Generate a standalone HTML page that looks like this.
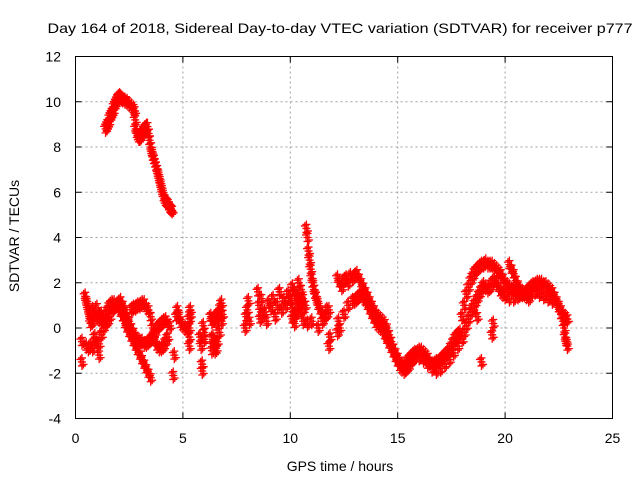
<!DOCTYPE html>
<html><head><meta charset="utf-8"><style>
body{margin:0;background:#fff}
svg text{font-family:"Liberation Sans",sans-serif;font-size:14px;fill:#000}
</style></head><body>
<svg id="chart" width="640" height="480" xmlns="http://www.w3.org/2000/svg">
<text x="340" y="33" text-anchor="middle" font-size="16" textLength="585" lengthAdjust="spacingAndGlyphs">Day 164 of 2018, Sidereal Day-to-day VTEC variation (SDTVAR) for receiver p777</text>
<text x="340" y="471" text-anchor="middle" font-size="15.5">GPS time / hours</text>
<text transform="translate(19,236) rotate(-90)" text-anchor="middle" font-size="15.5">SDTVAR / TECUs</text>
<g id="grid"></g>
<g id="ticks"></g>
<g id="marks"></g>
<rect x="75.5" y="56.5" width="537" height="362" fill="none" stroke="#000" stroke-width="1"/>
</svg>
<script>
const xTicks=[0,5,10,15,20,25];
const yTicks=[-4,-2,0,2,4,6,8,10,12];
const tA=[1.4,1.45,1.5,1.55,1.6,1.65,1.7,1.75,1.8,1.85,1.9,1.95,2.0,2.05,2.1,2.15,2.2,2.3,2.4,2.5,2.6,2.7,2.75,2.78,2.8,2.85,2.9,2.95,3.0,3.05,3.1,3.15,3.2,3.25,3.3,3.35,3.4,3.45,3.5,3.55,3.6,3.65,3.7,3.75,3.8,3.85,3.9,3.95,4.0,4.05,4.1,4.15,4.2,4.25,4.3,4.35,4.4,4.45,4.5];
const vA=[8.8,8.9,9.0,9.1,9.3,9.4,9.5,9.6,9.8,9.9,10.0,10.1,10.2,10.25,10.2,10.15,10.1,10.05,10.0,9.9,9.8,9.7,9.6,9.2,8.8,8.6,8.5,8.4,8.4,8.5,8.6,8.7,8.8,8.8,8.9,8.9,8.6,8.3,8.0,7.8,7.6,7.45,7.3,7.15,7.0,6.8,6.6,6.4,6.2,6.0,5.8,5.7,5.6,5.55,5.5,5.4,5.3,5.25,5.2];
const tB=[0.45,0.5,0.55,0.6,0.65,0.7,0.8,0.9,1.0,1.1,1.2,1.3,1.4,1.5,1.6,1.7,1.8,1.9,2.0,2.1,2.2,2.3,2.4,2.5,2.6,2.7,2.8,2.9,3.0,3.1,3.2,3.3,3.4,3.5];
const vB=[1.4,1.2,1.0,0.8,0.6,0.4,0.3,0.6,0.5,0.4,0.3,0.4,0.6,0.8,1.0,1.1,1.1,1.0,0.9,0.7,0.5,0.2,0.0,-0.2,-0.4,-0.6,-0.8,-1.0,-1.2,-1.4,-1.6,-1.8,-2.0,-2.2];
const tC=[0.5,0.6,0.7,0.8,0.9,1.0,1.1,1.2,1.3,1.4,1.5,1.6,1.7,1.8,1.9,2.0,2.1,2.2,2.3,2.4,2.5,2.6,2.7,2.8,2.9,3.0,3.1,3.2,3.3,3.4,3.5,3.6,3.7,3.8,3.9,4.0,4.1,4.2,4.3,4.4];
const vC=[-0.8,-0.9,-0.8,-0.9,-0.6,-0.7,-0.7,-0.3,0.0,0.2,0.3,0.5,0.8,0.9,1.0,1.1,1.2,1.0,0.8,0.5,0.3,0.0,-0.2,-0.4,-0.5,-0.6,-0.6,-0.7,-0.7,-0.6,-0.5,-0.4,-0.2,0.0,0.1,0.2,0.3,0.35,0.2,0.1];
const tD=[2.6,2.7,2.8,2.9,3.0,3.1,3.2,3.3,3.4,3.5,3.6,3.7,3.8,3.9,4.0,4.1,4.2,4.3,0.3,0.3,0.8,1.0,1.2,0.7,1.1,0.9];
const vD=[0.8,0.9,0.9,1.0,1.0,1.1,1.1,0.9,0.8,0.5,0.0,-0.6,-0.8,-0.9,-0.9,-0.8,-0.6,-0.4,-1.5,-0.6,0.8,0.9,0.6,0.2,-1.2,-0.4];
const tE=[4.55,4.6,4.7,4.75,4.8,4.9,5.0,5.1,5.2,5.3,5.3,5.3,5.3,5.35,5.35,5.8,5.85,5.9,5.9,5.95,6.0,6.0,6.3,6.35,6.4,6.45,6.5,6.55,6.6,6.65,6.7,6.75,6.8,6.85,6.4,6.5,6.6,6.7,6.8,6.35,6.45,6.55];
const vE=[-2.1,-1.2,0.5,0.8,0.6,0.2,0.1,0.0,-0.1,-0.8,-0.4,0.0,0.4,0.8,0.6,-0.4,-0.8,-1.9,-1.6,0.1,-0.2,-0.5,0.5,0.3,-0.5,-0.8,-1.0,-0.9,-0.6,0.5,0.7,0.9,1.1,0.6,-0.4,-0.7,0.6,-0.2,0.3,-1.0,0.4,0.2];
const tF=[7.9,7.95,8.0,8.05,8.1,8.5,8.55,8.6,8.65,8.7,8.8,8.9,9.0,9.1,9.2,9.3,9.4,9.5,9.6,9.7,9.8,9.9,10.0,10.1,10.2,10.3,10.4,10.5,10.6];
const vF=[0.0,0.5,0.8,1.2,0.3,1.6,1.0,0.4,1.3,0.6,0.7,0.3,1.1,0.9,1.3,0.5,1.0,1.6,0.8,1.2,1.0,1.5,1.3,1.8,1.6,1.4,2.0,1.2,0.8];
const tG=[10.0,10.1,10.2,10.3,10.4,10.5,10.6,10.7,10.75,10.8,10.85,10.9,10.95,11.0,11.05,11.1,11.15,11.2,11.25,11.3,11.4,11.5,11.6,11.7,11.8,11.85,11.8,10.1,10.3,10.5,10.8,11.0,11.3,11.5,11.7,10.2,10.4,10.6];
const vG=[1.2,0.9,0.6,0.9,1.4,1.7,1.3,1.0,4.4,4.0,3.4,3.0,2.6,2.2,2.0,1.7,1.5,1.4,1.2,1.0,0.8,0.6,0.5,0.6,0.8,-0.4,-0.8,0.4,0.7,0.8,0.2,0.3,0.0,0.3,0.8,0.2,1.0,0.3];
const tH=[12.2,12.3,12.4,12.5,12.6,12.7,12.8,12.9,13.0,13.1,13.2,13.3,13.4,13.5,13.6,13.7,13.8,13.9,14.0,14.1,14.2,14.3,14.4,14.5,14.6,14.7,14.8,14.9,15.0,15.1,15.2,15.3,15.4,15.5,15.6,15.7,15.8,15.9,16.0,16.1,16.2,16.3,16.4,16.5,16.6,16.7,16.8,16.9,17.0,17.1,17.2,17.3,17.4,17.5,17.6,17.7,17.8,17.9,18.0,18.1,18.2,18.3,18.4,18.5,18.6,18.7,18.8,18.9,19.0,19.1,19.2,19.3,19.4,19.5,19.6,19.7,19.8,19.9,20.0,20.1,20.2,20.3,20.4,20.5,20.6,20.7,20.8,20.9,21.0,21.1,21.2,21.3,21.4,21.5,21.6,21.7,21.8,21.9,22.0,22.1,22.2,22.3,22.4,22.5,22.6,22.7,22.75,22.8,22.85,22.9];
const vH=[2.2,2.0,1.8,2.1,2.2,2.0,2.3,2.2,2.3,2.4,2.2,2.0,1.8,1.6,1.4,1.2,1.0,0.8,0.6,0.5,0.4,0.3,0.2,0.0,-0.3,-0.6,-0.9,-1.1,-1.3,-1.5,-1.6,-1.7,-1.6,-1.4,-1.3,-1.2,-1.1,-1.1,-1.0,-1.0,-1.1,-1.2,-1.3,-1.5,-1.6,-1.6,-1.5,-1.5,-1.4,-1.3,-1.2,-1.1,-1.0,-0.8,-0.6,-0.4,-0.3,-0.2,0.5,1.0,1.5,1.8,2.1,2.3,2.5,2.6,2.7,2.8,2.8,2.9,2.8,2.8,2.8,2.7,2.6,2.5,2.4,2.2,2.0,1.9,1.8,1.7,1.7,1.6,1.6,1.5,1.5,1.5,1.6,1.7,1.8,1.9,1.9,2.0,2.0,2.0,1.9,1.9,1.8,1.7,1.6,1.4,1.2,0.9,0.6,0.3,0.0,-0.4,-0.6,-0.8,-1.0,-1.1];
const tI=[12.3,12.5,12.7,12.9,13.0,13.1,13.2,13.3,13.4,13.5,13.6,13.7,13.8,13.9,14.0,14.1,14.2,14.3,14.4,14.5,14.6,14.7,14.8,14.9,15.0,15.1,15.2,15.3,15.4,15.5,15.6,15.7,15.8,16.0,16.2,16.4,16.6,16.8,17.0,17.2,17.4,17.6,17.8,18.0,18.1,18.2,18.3,18.4,18.5,18.6,18.7,18.8,18.9,19.0,19.1,19.2,19.3,19.4,19.5,19.6,19.7,19.8,19.9,20.0,20.2,20.4,20.6,20.8,21.0,21.2,21.4,21.6,21.8,22.0,22.2,22.4,22.5,22.6,22.7,22.8,22.9,20.2,20.3,20.4,20.5,20.6,20.7,20.8,20.9,21.0,21.1,12.2,12.25,18.7,19.4,19.45,18.9,14.3,14.5];
const vI=[0.0,0.6,1.0,1.2,1.2,1.3,1.4,1.5,1.3,1.2,1.0,0.8,0.6,0.4,0.2,0.1,0.0,-0.1,-0.3,-0.5,-0.7,-0.9,-1.1,-1.3,-1.5,-1.7,-1.8,-1.9,-1.8,-1.7,-1.5,-1.4,-1.3,-1.3,-1.4,-1.6,-1.8,-1.9,-1.8,-1.6,-1.4,-1.1,-0.8,-0.5,-0.2,0.1,0.4,0.7,0.9,1.1,1.3,1.5,1.7,1.9,1.8,1.7,1.8,2.0,2.1,2.0,1.8,1.6,1.5,1.4,1.3,1.3,1.4,1.5,1.5,1.5,1.6,1.5,1.4,1.3,1.2,1.1,1.0,0.8,0.6,0.5,0.4,2.8,2.6,2.4,2.1,1.9,1.7,1.6,1.5,1.4,1.3,-0.2,0.3,0.5,-0.3,0.2,-1.5,0.1,-0.4];
const series=[[tA,vA],[tB,vB],[tC,vC],[tD,vD],[tE,vE],[tF,vF],[tG,vG],[tH,vH],[tI,vI]];
const X0=75.5,X1=612.5,Y0=418.5,Y1=56.5;
function xs(t){return X0+(t-0)/(25-0)*(X1-X0);}
function ys(v){return Y0-(v+4)/(12+4)*(Y0-Y1);}
const NS="http://www.w3.org/2000/svg";
function mk(tag,attrs,parent){const e=document.createElementNS(NS,tag);for(const k in attrs)e.setAttribute(k,attrs[k]);parent.appendChild(e);return e;}
const grid=document.getElementById('grid'),ticks=document.getElementById('ticks'),marks=document.getElementById('marks');
xTicks.forEach(t=>{const x=xs(t);
 if(t>0&&t<25){const g=mk('line',{x1:x,y1:Y1,x2:x,y2:Y0,stroke:'#a0a0a0','stroke-dasharray':'2,3'},grid);
 
 }
 mk('line',{x1:x,y1:Y0,x2:x,y2:Y0-6,stroke:'#000'},ticks);
 mk('line',{x1:x,y1:Y1,x2:x,y2:Y1+6,stroke:'#000'},ticks);
 const l=mk('text',{x:x,y:443,'text-anchor':'middle'},ticks);l.textContent=t;
 
 
});
yTicks.forEach(v=>{const y=ys(v);
 if(v>-4&&v<12){const g=mk('line',{x1:X0,y1:y,x2:X1,y2:y,stroke:'#a0a0a0','stroke-dasharray':'2,3'},grid);
 
 }
 mk('line',{x1:X0,y1:y,x2:X0+6,y2:y,stroke:'#000'},ticks);
 mk('line',{x1:X1,y1:y,x2:X1-6,y2:y,stroke:'#000'},ticks);
 const l=mk('text',{x:61,y:y+5,'text-anchor':'end'},ticks);l.textContent=v;
 
 
});
series.forEach(([ts,vs])=>{let d='';
 for(let i=0;i<ts.length;i++){const x=xs(ts[i]),y=ys(vs[i]);
  for(const [dx,dy] of [[0,0],[1.5,2.5],[-1.5,-2.5],[0,-4],[0,4]]){
   d+=`M${x+dx-4},${y+dy}h8M${x+dx},${y+dy-4}v8`;}}
 const p=mk('path',{d:d,stroke:'#ff0000','stroke-width':'1.3',fill:'none'},marks);
 
 
});
</script>
</body></html>
